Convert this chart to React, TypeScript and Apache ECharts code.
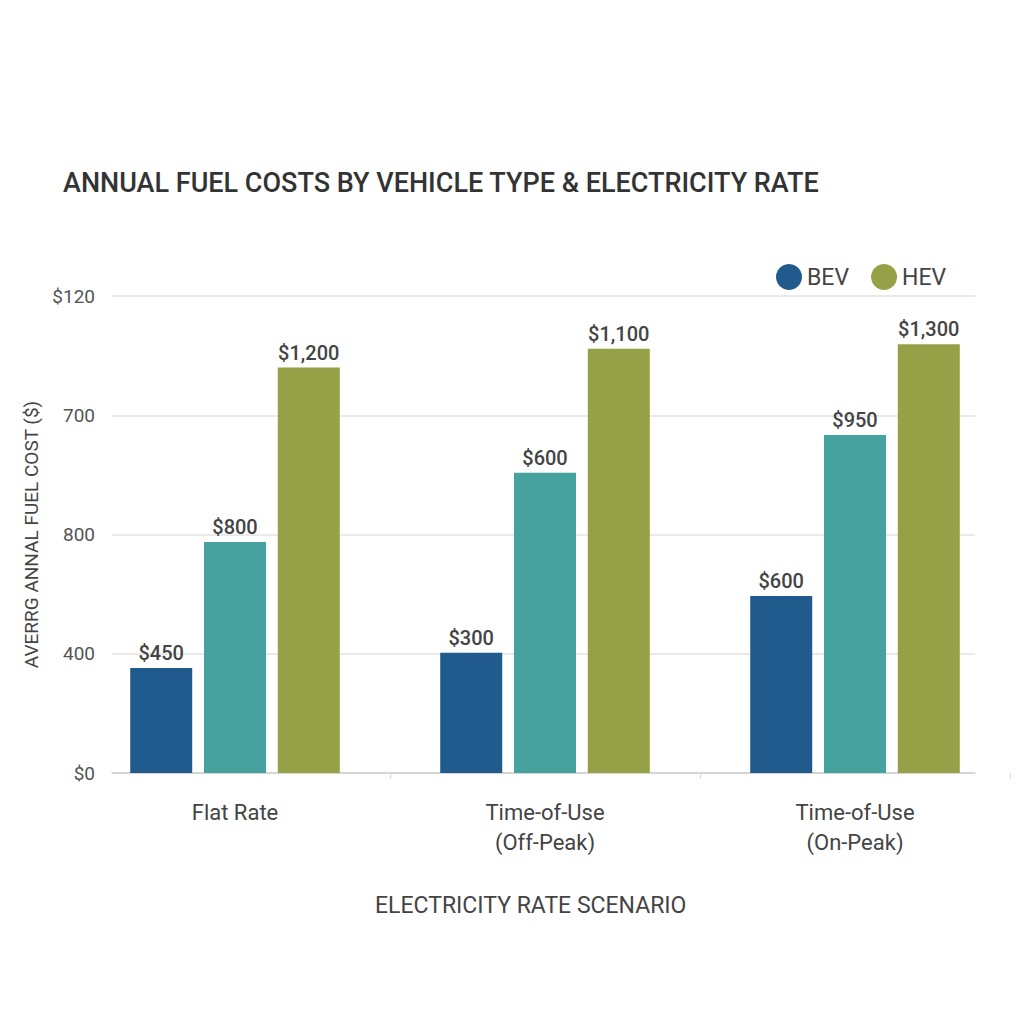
import React, { useEffect, useRef } from "react";
import * as echarts from "echarts";

const categories = ["Flat Rate", "Time-of-Use\n(Off-Peak)", "Time-of-Use\n(On-Peak)"];
const yTickLabels = ["$0", "400", "800", "700", "$120"];
// bar heights, in axis units (one grid step = 400)
const bevValues = [352, 403, 594];
const midValues = [775, 1007, 1134];
const hevValues = [1360, 1423, 1438];
// printed value labels
const bevLabels = ["$450", "$300", "$600"];
const midLabels = ["$800", "$600", "$950"];
const hevLabels = ["$1,200", "$1,100", "$1,300"];

const FONT = "Roboto";

export default function App() {
  const ref = useRef<HTMLDivElement>(null);
  useEffect(() => {
    document.body.style.margin = "0";
    const chart = echarts.init(ref.current!, null, { renderer: "svg" });
    const labelStyle = (labels: string[]) => ({
      show: true,
      position: "top",
      distance: 5,
      fontFamily: FONT,
      fontSize: 20,
      fontWeight: 500,
      color: "#444",
      formatter: (p: any) => labels[p.dataIndex],
    });
    chart.setOption({
      animation: false,
      backgroundColor: "#fff",
      title: [
        {
          text: "ANNUAL FUEL COSTS BY VEHICLE TYPE & ELECTRICITY RATE",
          left: 58,
          top: 164,
          textStyle: { fontFamily: FONT, fontSize: 27, fontWeight: 500, color: "#333" },
        },
        {
          text: "ELECTRICITY RATE SCENARIO",
          left: 370,
          top: 889,
          textStyle: { fontFamily: FONT, fontSize: 23, fontWeight: 400, color: "#444" },
        },
      ],
      legend: {
        data: ["BEV", "HEV"],
        left: 771,
        top: 259,
        icon: "circle",
        itemWidth: 26,
        itemHeight: 26,
        itemGap: 22,
        textStyle: { fontFamily: FONT, fontSize: 23, color: "#444" },
      },
      grid: [
        { left: 112, right: 49, top: 296, bottom: 251 },
        { left: 80, right: 14, top: 296, bottom: 251 },
      ],
      xAxis: [
        {
          type: "category",
          gridIndex: 0,
          data: categories,
          axisLine: { show: true, lineStyle: { color: "#cfcfcf", width: 1.5 } },
          axisTick: { show: false },
          axisLabel: { show: false },
        },
        {
          type: "category",
          gridIndex: 1,
          data: categories,
          axisLine: { show: false },
          axisTick: {
            show: true,
            length: 6,
            interval: (i: number) => i > 0,
            lineStyle: { color: "#d8d8d8" },
          },
          axisLabel: {
            margin: 24,
            fontFamily: FONT,
            fontSize: 22,
            lineHeight: 30,
            color: "#444",
          },
        },
      ],
      yAxis: [
        {
          type: "value",
          gridIndex: 0,
          min: 0,
          max: 1600,
          interval: 400,
          name: "AVERRG ANNAL FUEL COST ($)",
          nameLocation: "middle",
          nameGap: 62,
          nameTextStyle: { fontFamily: FONT, fontSize: 19, color: "#444" },
          axisLine: { show: false },
          axisTick: { show: false },
          axisLabel: {
            margin: 17,
            fontFamily: FONT,
            fontSize: 19,
            color: "#555",
            formatter: (v: number) => yTickLabels[Math.round(v / 400)],
          },
          splitLine: { lineStyle: { color: "#e3e3e3", width: 1.5 } },
        },
        {
          type: "value",
          gridIndex: 1,
          min: 0,
          max: 1600,
          interval: 400,
          show: false,
          splitLine: { show: false },
        },
      ],
      series: [
        {
          name: "BEV",
          type: "bar",
          xAxisIndex: 1,
          yAxisIndex: 1,
          data: bevValues,
          barWidth: 62,
          barGap: "19%",
          itemStyle: { color: "#215a8c" },
          label: labelStyle(bevLabels),
        },
        {
          name: "Mid",
          type: "bar",
          xAxisIndex: 1,
          yAxisIndex: 1,
          data: midValues,
          barWidth: 62,
          barGap: "19%",
          itemStyle: { color: "#45a29e" },
          label: labelStyle(midLabels),
        },
        {
          name: "HEV",
          type: "bar",
          xAxisIndex: 1,
          yAxisIndex: 1,
          data: hevValues,
          barWidth: 62,
          barGap: "19%",
          itemStyle: { color: "#95a047" },
          label: labelStyle(hevLabels),
        },
      ],
    });
    return () => chart.dispose();
  }, []);
  return <div ref={ref} style={{ width: 1024, height: 1024 }} />;
}
